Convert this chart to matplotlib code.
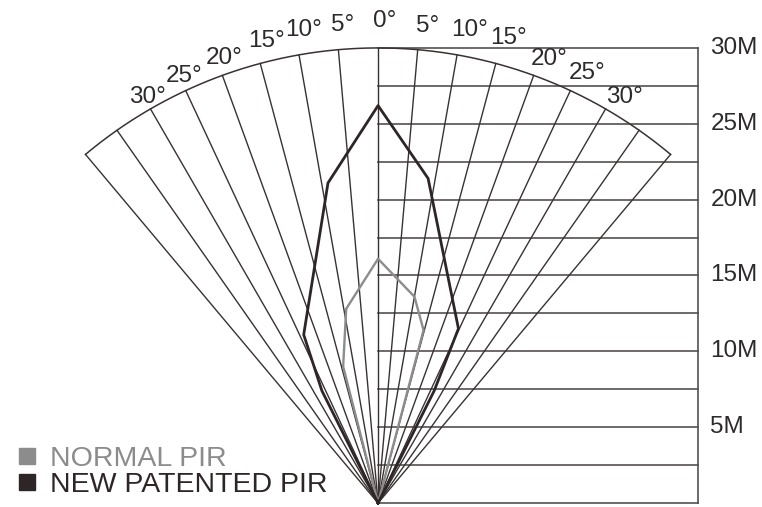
import numpy as np
import matplotlib.pyplot as plt
from matplotlib.lines import Line2D

plt.rcParams['font.family'] = ['Liberation Sans', 'DejaVu Sans']

# detection fan: half angle and range (metres)
fan_half_angle = 40
fan_range = 30
ray_angles = np.arange(-40, 41, 5)
range_ticks = [5, 10, 15, 20, 25, 30]
grid_rows = np.arange(0, 30.1, 2.5)
degree_ticks = [0, 5, 10, 15, 20, 25, 30]

# coverage outlines: lateral offset and forward distance (metres)
new_x = [0, 3.7, 5.3, 3.3, 0, -3.3, -4.9, -3.7, 0]
new_y = [0, 7.4, 11.5, 21.4, 26.2, 21.1, 11.1, 7.4, 0]
normal_x = [0, 3.0, 2.4, 0, -2.1, -2.3, 0]
normal_y = [0, 11.4, 13.6, 16.1, 12.8, 9.0, 0]

line_col = '#3a3232'
grid_col = '#555050'
text_col = '#2e2a2a'
new_col = '#2e2626'
normal_col = '#8c8c8c'

fig = plt.figure(figsize=(7.62, 5.07), dpi=100)
ax = fig.add_axes([0, 0, 1, 1])
ax.set_xlim(-24.92, 25.31)
ax.set_ylim(-0.26, 33.16)
ax.set_aspect('equal')
ax.axis('off')

right_edge = 21.1

# horizontal range grid on the right
for y in grid_rows:
    ax.plot([0, right_edge], [y, y], color=grid_col, lw=1.2, zorder=1)
ax.plot([right_edge, right_edge], [0, fan_range], color=grid_col, lw=1.2, zorder=1)

# rays and arc
for a in ray_angles:
    t = np.radians(a)
    ax.plot([0, fan_range * np.sin(t)], [0, fan_range * np.cos(t)],
            color=line_col, lw=1.0, zorder=2)
arc_t = np.radians(np.linspace(-fan_half_angle, fan_half_angle, 200))
ax.plot(fan_range * np.sin(arc_t), fan_range * np.cos(arc_t), color=line_col, lw=1.1, zorder=2)

# outlines
ax.plot(normal_x, normal_y, color=normal_col, lw=1.7, zorder=3)
ax.plot(new_x, new_y, color=new_col, lw=2.0, zorder=4)

# range labels
for r in range_ticks:
    ax.text(right_edge + 0.8, r, f'{r}M', fontsize=17.5, color=text_col,
            ha='left', va='center')

# angle labels (placement tweaks per label)
left_pos = {5: (4.2, 31.6), 10: (9.0, 31.57), 15: (13.6, 31.33),
            20: (19.1, 31.04), 25: (24.4, 30.92), 30: (29.6, 30.79)}
right_pos = {0: (0.8, 31.8), 5: (5.9, 31.6), 10: (10.9, 31.75), 15: (15.7, 31.85),
             20: (21.1, 31.36), 25: (25.9, 31.52), 30: (31.3, 31.33)}
for d in degree_ticks:
    for sign, pos in ((-1, left_pos), (1, right_pos)):
        if d in pos:
            ang, rad = pos[d]
            t = np.radians(sign * ang)
            ax.text(rad * np.sin(t), rad * np.cos(t), f'{d}°', fontsize=17.5,
                    color=text_col, ha='center', va='center')

handles = [Line2D([], [], marker='s', ls='none', color=normal_col, markersize=12),
           Line2D([], [], marker='s', ls='none', color=new_col, markersize=12)]
ax.legend(handles, ['NORMAL PIR', 'NEW PATENTED PIR'], loc='lower left',
          bbox_to_anchor=(0.022, 0.017), frameon=False, fontsize=20.5,
          handlelength=0.7, handletextpad=0.45, labelspacing=0.0,
          borderaxespad=0.0, borderpad=0.0, labelcolor=[normal_col, new_col])

fig.savefig('out.png', dpi=100)
